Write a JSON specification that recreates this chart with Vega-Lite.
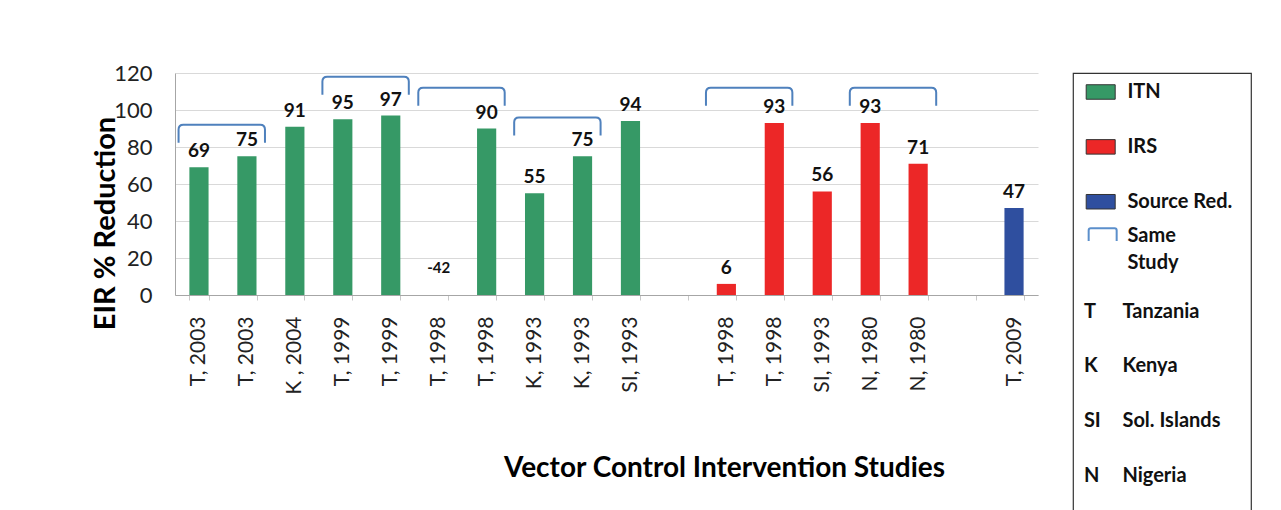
{
  "$schema": "https://vega.github.io/schema/vega-lite/v6.json",
  "background": "white",
  "padding": {"left": 90, "top": 62, "right": 0, "bottom": 0},
  "autosize": {"type": "pad"},
  "bounds": "flush",
  "spacing": 35,
  "config": {"font": "Lato", "view": {"stroke": null}},
  "datasets": {
    "bars": [
      {"i": 0, "label": "T, 2003", "value": 69, "type": "ITN"},
      {"i": 1, "label": "T, 2003", "value": 75, "type": "ITN"},
      {"i": 2, "label": "K , 2004", "value": 91, "type": "ITN"},
      {"i": 3, "label": "T, 1999", "value": 95, "type": "ITN"},
      {"i": 4, "label": "T, 1999", "value": 97, "type": "ITN"},
      {"i": 5, "label": "T, 1998", "value": -42, "type": "ITN"},
      {"i": 6, "label": "T, 1998", "value": 90, "type": "ITN"},
      {"i": 7, "label": "K, 1993", "value": 55, "type": "ITN"},
      {"i": 8, "label": "K, 1993", "value": 75, "type": "ITN"},
      {"i": 9, "label": "SI, 1993", "value": 94, "type": "ITN"},
      {"i": 11, "label": "T, 1998", "value": 6, "type": "IRS"},
      {"i": 12, "label": "T, 1998", "value": 93, "type": "IRS"},
      {"i": 13, "label": "SI, 1993", "value": 56, "type": "IRS"},
      {"i": 14, "label": "N, 1980", "value": 93, "type": "IRS"},
      {"i": 15, "label": "N, 1980", "value": 71, "type": "IRS"},
      {"i": 17, "label": "T, 2009", "value": 47, "type": "Source Red."}
    ],
    "brackets": [
      {"a": 0, "top": 92},
      {"a": 3, "top": 118},
      {"a": 5, "top": 112},
      {"a": 7, "top": 96},
      {"a": 11, "top": 112},
      {"a": 14, "top": 112}
    ],
    "legend": [
      {"item": "ITN", "kind": "swatch", "type": "ITN", "label": "ITN"},
      {"item": "IRS", "kind": "swatch", "type": "IRS", "label": "IRS"},
      {"item": "Source Red.", "kind": "swatch", "type": "Source Red.", "label": "Source Red."},
      {"item": "Same Study", "kind": "bracket", "label": "Same\nStudy"},
      {"item": "T", "kind": "country", "abbr": "T", "label": "Tanzania"},
      {"item": "K", "kind": "country", "abbr": "K", "label": "Kenya"},
      {"item": "SI", "kind": "country", "abbr": "SI", "label": "Sol. Islands"},
      {"item": "N", "kind": "country", "abbr": "N", "label": "Nigeria"}
    ]
  },
  "hconcat": [
    {
      "width": 863,
      "height": 222,
      "layer": [
        {
          "data": {"name": "bars"},
          "transform": [{"filter": "datum.value > 0"}],
          "mark": {"type": "bar"},
          "encoding": {
            "x": {
              "field": "i",
              "type": "ordinal",
              "scale": {"domain": [0,1,2,3,4,5,6,7,8,9,10,11,12,13,14,15,16,17], "paddingInner": 0.6, "paddingOuter": 0.3},
              "axis": {
                "title": "Vector Control Intervention Studies",
                "titleFontSize": 28,
                "titleFontWeight": "bold",
                "titleColor": "#000",
                "titleX": 549,
                "titleY": 173,
                "titleAlign": "center",
                "titleBaseline": "middle",
                "labelAngle": -90,
                "labelFontSize": 21,
                "labelColor": "#222",
                "labelPadding": 16,
                "labelExpr": "['T, 2003','T, 2003','K , 2004','T, 1999','T, 1999','T, 1998','T, 1998','K, 1993','K, 1993','SI, 1993','','T, 1998','T, 1998','SI, 1993','N, 1980','N, 1980','','T, 2009'][datum.value]",
                "tickBand": "extent",
                "tickSize": 5,
                "tickColor": "#c8c8c8",
                "domainColor": "#a6a6a6",
                "grid": false
              }
            },
            "y": {
              "field": "value",
              "type": "quantitative",
              "scale": {"domain": [0, 120]},
              "axis": {
                "values": [0, 20, 40, 60, 80, 100, 120],
                "tickCount": 7,
                "labelOverlap": false,
                "title": "EIR % Reduction",
                "titleFontSize": 29,
                "titleFontWeight": "bold",
                "titleColor": "#000",
                "titleX": -61,
                "titleY": 150,
                "titleAlign": "center",
                "titleBaseline": "alphabetic",
                "labelFontSize": 22,
                "labelColor": "#222",
                "labelPadding": 23,
                "ticks": false,
                "gridColor": "#d9d9d9",
                "domainColor": "#a6a6a6"
              }
            },
            "color": {
              "field": "type",
              "type": "nominal",
              "scale": {"domain": ["ITN", "IRS", "Source Red."], "range": ["#369966", "#EC2727", "#2F4F9F"]},
              "legend": null
            }
          }
        },
        {
          "data": {"name": "bars"},
          "transform": [{"filter": "datum.value > 0"}],
          "mark": {"type": "text", "fontWeight": "bold", "fontSize": 19, "baseline": "alphabetic", "dy": -10, "color": "#111"},
          "encoding": {
            "x": {"field": "i", "type": "ordinal"},
            "y": {"field": "value", "type": "quantitative"},
            "text": {"field": "value", "type": "nominal"}
          }
        },
        {
          "data": {"name": "bars"},
          "transform": [{"filter": "datum.value < 0"}],
          "mark": {"type": "text", "fontWeight": "bold", "fontSize": 15, "baseline": "middle", "dy": -27, "color": "#111"},
          "encoding": {
            "x": {"field": "i", "type": "ordinal"},
            "y": {"datum": 0},
            "text": {"field": "value", "type": "nominal"}
          }
        },
        {
          "data": {"name": "brackets"},
          "mark": {
            "type": "point",
            "shape": "M-0.85,0.75L-0.85,0.2Q-0.85,0,-0.65,0L2.55,0Q2.75,0,2.75,0.2L2.75,0.75",
            "size": 2304,
            "filled": false,
            "stroke": "#4F81BD",
            "strokeWidth": 2,
            "opacity": 1
          },
          "encoding": {
            "x": {"field": "a", "type": "ordinal"},
            "y": {"field": "top", "type": "quantitative"}
          }
        }
      ]
    },
    {
      "width": 178,
      "height": 477,
      "view": {"stroke": "#333", "strokeWidth": 1.2},
      "data": {"name": "legend"},
      "encoding": {
        "y": {
          "field": "item",
          "type": "ordinal",
          "scale": {"type": "point", "domain": ["ITN", "IRS", "Source Red.", "Same Study", "T", "K", "SI", "N", "_"], "padding": 0.346},
          "axis": null
        }
      },
      "layer": [
        {
          "transform": [{"filter": "datum.kind == 'swatch'"}],
          "mark": {"type": "point", "shape": "M-1,-0.5L1,-0.5L1,0.5L-1,0.5Z", "size": 841, "filled": true, "opacity": 1, "stroke": "#333", "strokeWidth": 1},
          "encoding": {
            "x": {"datum": 28, "type": "quantitative", "scale": {"domain": [0, 178]}, "axis": null},
            "color": {
              "field": "type",
              "type": "nominal",
              "scale": {"domain": ["ITN", "IRS", "Source Red."], "range": ["#369966", "#EC2727", "#2F4F9F"]},
              "legend": null
            }
          }
        },
        {
          "transform": [{"filter": "datum.kind == 'bracket'"}],
          "mark": {"type": "point", "shape": "M-1,-1.11L-1,-1.87Q-1,-2.03,-0.85,-2.03L0.85,-2.03Q1,-2.03,1,-1.87L1,-1.11", "size": 784, "filled": false, "stroke": "#5B8FCB", "strokeWidth": 2, "opacity": 1},
          "encoding": {
            "x": {"datum": 30, "type": "quantitative"}
          }
        },
        {
          "transform": [{"filter": "datum.kind == 'swatch'"}],
          "mark": {"type": "text", "align": "left", "baseline": "middle", "fontWeight": "bold", "fontSize": 20, "color": "#111"},
          "encoding": {
            "x": {"datum": 55, "type": "quantitative"},
            "text": {"field": "label"}
          }
        },
        {
          "transform": [{"filter": "datum.kind == 'bracket'"}],
          "mark": {"type": "text", "align": "left", "baseline": "middle", "fontWeight": "bold", "fontSize": 20, "lineBreak": "\n", "lineHeight": 27, "dy": -21, "color": "#111"},
          "encoding": {
            "x": {"datum": 55, "type": "quantitative"},
            "text": {"field": "label"}
          }
        },
        {
          "transform": [{"filter": "datum.kind == 'country'"}],
          "mark": {"type": "text", "align": "left", "baseline": "middle", "fontWeight": "bold", "fontSize": 20, "color": "#111"},
          "encoding": {
            "x": {"datum": 50, "type": "quantitative"},
            "text": {"field": "label"}
          }
        },
        {
          "transform": [{"filter": "datum.kind == 'country'"}],
          "mark": {"type": "text", "align": "left", "baseline": "middle", "fontWeight": "bold", "fontSize": 20, "color": "#111"},
          "encoding": {
            "x": {"datum": 11, "type": "quantitative"},
            "text": {"field": "abbr"}
          }
        }
      ]
    }
  ]
}
